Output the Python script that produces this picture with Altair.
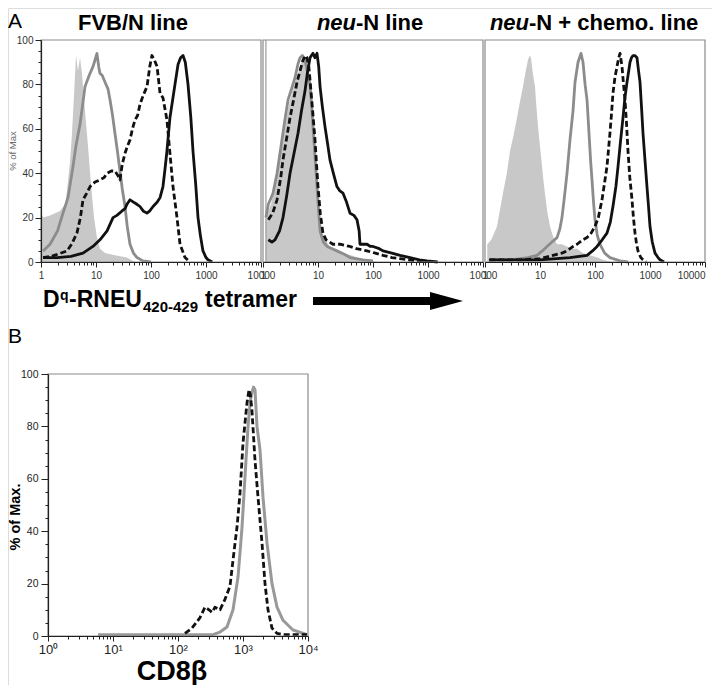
import altair as alt
import pandas as pd

FONT = "Liberation Sans"
W, H = 704, 677

# ---------------- data ----------------
# Panel A-1: FVB/N line
fvb_fill_x = [1.0, 1.02, 1.09, 1.46, 2.21, 2.73, 2.97, 3.37, 3.66, 3.98, 4.33, 4.7, 5.12, 5.56, 6.31, 7.16, 8.11, 9.2, 10.4, 11.8, 14.6, 22.0, 36.6, 51.0]
fvb_fill_y = [0, 22, 20, 21, 23, 26, 32, 45, 58, 75, 93, 86, 92, 85, 68, 52, 35, 20, 11, 6, 4, 3, 2, 0]
fvb_gray_x = [1.09, 1.46, 2.0, 2.51, 3.1, 3.82, 4.3, 5.12, 5.8, 6.31, 7.5, 8.82, 9.6, 10.4, 11.2, 11.8, 13.0, 14.6, 16.5, 18.0, 20.0, 22.1, 24.5, 27.3, 30.0, 33.7, 37.0, 41.5, 48.0, 55.6, 71.6, 100.0]
fvb_gray_y = [5, 8, 14, 22, 29, 43, 52, 62, 72, 79, 84, 88, 91, 94, 88, 85, 84, 81, 78, 73, 66, 58, 50, 41, 33, 25, 16, 8, 4, 2, 0.5, 0]
fvb_dash_x = [1.09, 1.5, 2.0, 2.97, 3.6, 4.5, 5.2, 5.8, 6.8, 7.8, 9.6, 11.8, 14.0, 15.9, 19.0, 22.1, 25.0, 27.3, 30.0, 33.7, 37.0, 41.5, 46.0, 51.2, 57.0, 63.1, 72.0, 84.6, 95.0, 104.0, 115.0, 129.0, 146.0, 165.0, 195.0, 221.0, 251.0, 297.0, 337.0, 415.0, 512.0]
fvb_dash_y = [2, 2.5, 3.5, 5, 8, 13, 20, 28, 31, 34, 36, 37, 38, 40, 41, 41, 39, 37, 44, 49, 52, 55, 60, 64, 66, 71, 75, 79, 88, 93, 91, 88, 76, 74, 64, 49, 34, 20, 8, 2, 0]
fvb_black_x = [1.09, 2.0, 3.5, 5.8, 8.8, 11.8, 15.9, 20.4, 24.0, 29.7, 33.7, 36.6, 41.5, 48.0, 55.6, 63.0, 72.0, 84.6, 95.0, 109.0, 130.0, 146.0, 165.0, 180.0, 195.0, 221.0, 273.0, 310.0, 345.0, 382.0, 420.0, 471.0, 530.0, 580.0, 650.0, 716.0, 790.0, 881.0, 1000.0, 1087.0, 1300.0]
fvb_black_y = [2, 2, 2.5, 4, 7, 10, 14, 20, 21, 23, 24, 26, 28, 27, 26, 25, 23, 22, 23, 25, 27, 29, 34, 42, 50, 65, 80, 89, 92, 93, 90, 80, 65, 50, 35, 20, 12, 5, 2, 1, 0]

# Panel A-2: neu-N line
neu_fill_x = [1.13, 1.2, 1.4, 1.65, 2.0, 2.31, 2.7, 3.1, 3.6, 4.15, 4.7, 5.34, 5.9, 6.58, 7.2, 7.78, 8.3, 8.82, 9.4, 10.0, 10.9, 11.8, 13.5, 16.5, 22.0, 28.5, 40.0, 51.2, 80.0, 118.0]
neu_fill_y = [18, 22, 26, 34, 46, 58, 66, 73, 79, 83, 88, 92, 90, 85, 80, 74, 66, 58, 46, 34, 22, 14, 10, 7, 5, 4, 3, 2, 1, 0]
neu_gray_x = [1.13, 1.25, 1.52, 1.8, 2.21, 2.5, 2.85, 3.3, 3.82, 4.3, 4.71, 5.2, 5.8, 6.4, 7.16, 7.7, 8.11, 8.8, 9.59, 10.2, 10.9, 12.5, 14.6, 22.1, 30.0, 38.2, 65.8, 100.0]
neu_gray_y = [20, 26, 31, 40, 55, 64, 73, 78, 83, 89, 92, 93, 91, 86, 80, 70, 61, 48, 34, 24, 14, 9, 7, 5, 3.5, 2, 1, 0.5]
neu_dash_x = [1.25, 1.5, 1.8, 2.1, 2.31, 2.7, 3.1, 3.6, 4.15, 4.7, 5.34, 6.0, 6.31, 6.8, 7.16, 8.0, 8.82, 9.4, 10.0, 11.0, 12.3, 14.0, 18.7, 25.0, 38.2, 50.0, 77.8, 110.0, 152.0, 220.0, 310.0, 631.0, 1000.0]
neu_dash_y = [19, 22, 28, 38, 46, 56, 65, 73, 81, 86, 91, 93, 92, 88, 82, 68, 55, 44, 34, 22, 13, 10, 8, 8, 7, 6, 5, 4, 3, 2, 1.5, 0.5, 0.2]
neu_black_x = [1.25, 1.45, 1.65, 2.0, 2.31, 2.7, 3.1, 3.6, 4.33, 5.0, 5.8, 6.4, 7.16, 7.6, 8.11, 8.8, 9.59, 10.3, 10.9, 12.0, 13.4, 15.0, 16.5, 19.0, 22.1, 25.0, 28.5, 33.0, 38.2, 45.0, 51.2, 56.0, 58.0, 65.0, 77.8, 90.0, 100.0, 130.0, 152.0, 220.0, 310.0, 471.0, 700.0, 959.0, 1500.0]
neu_black_y = [10, 9, 10, 14, 20, 30, 40, 48, 58, 68, 77, 85, 92, 93, 94, 92, 94, 88, 79, 70, 61, 53, 46, 40, 34, 32, 31, 27, 22, 21, 19, 14, 8, 8, 8, 7, 7, 6, 5, 4, 3, 2, 1, 0.5, 0]

# Panel A-3: neu-N + chemo. line
chemo_fill_x = [1.1, 1.3, 1.65, 2.12, 2.5, 2.85, 3.3, 3.82, 4.3, 4.91, 5.5, 6.05, 6.5, 6.86, 7.4, 8.11, 8.6, 9.2, 10.0, 10.9, 11.5, 12.3, 13.5, 15.2, 17.5, 20.4, 25.0, 31.0, 40.0, 47.1, 60.0, 81.1, 110.0, 140.0, 200.0]
chemo_fill_y = [8, 10, 16, 31, 40, 50, 57, 65, 72, 79, 86, 91, 93, 92, 85, 79, 70, 61, 52, 43, 37, 31, 23, 16, 11, 8, 8, 7, 6, 6, 4, 3, 2, 1, 0]
chemo_gray_x = [1.2, 3.0, 6.0, 8.82, 11.0, 13.4, 16.5, 20.4, 23.0, 25.1, 28.0, 31.0, 35.1, 39.8, 43.3, 49.1, 55.6, 60.5, 66.0, 71.6, 77.8, 83.0, 88.2, 94.0, 100.0, 110.0, 123.0, 150.0, 187.0, 285.0, 400.0]
chemo_gray_y = [1, 1, 2, 3, 5, 7, 9, 11, 15, 20, 30, 40, 55, 68, 81, 90, 94, 90, 80, 73, 58, 46, 37, 27, 19, 12, 8, 4, 2, 0.5, 0]
chemo_dash_x = [1.2, 5.0, 10.0, 17.2, 25.0, 31.0, 40.0, 47.1, 60.0, 71.6, 85.0, 100.0, 115.0, 134.0, 150.0, 165.0, 175.0, 187.0, 200.0, 212.0, 230.0, 251.0, 270.0, 285.0, 310.0, 330.0, 351.0, 375.0, 398.0, 430.0, 471.0, 500.0, 534.0, 570.0, 605.0, 680.0, 746.0, 850.0]
chemo_dash_y = [1, 1, 1.5, 3, 4, 5, 7, 8, 10, 11, 13, 16, 20, 28, 36, 43, 50, 58, 67, 76, 83, 88, 92, 94, 88, 80, 73, 62, 50, 38, 28, 20, 13, 8, 5, 2, 1, 0]
chemo_black_x = [1.2, 10.0, 35.1, 71.6, 90.0, 109.0, 135.0, 165.0, 190.0, 212.0, 240.0, 262.0, 290.0, 323.0, 350.0, 382.0, 410.0, 433.0, 460.0, 491.0, 530.0, 580.0, 620.0, 658.0, 700.0, 746.0, 810.0, 881.0, 940.0, 1000.0, 1100.0, 1233.0, 1400.0, 1520.0, 1800.0]
chemo_black_y = [1, 1, 2, 3, 5, 7, 10, 13, 18, 25, 34, 43, 54, 65, 74, 81, 86, 90, 92, 93, 93, 92, 86, 81, 70, 58, 46, 34, 25, 16, 9, 4, 2, 1, 0]

# Panel B: CD8 beta
cd8_gray_x = [5.88, 100.0, 345.0, 443.0, 567.0, 702.0, 838.0, 966.0, 1073.0, 1194.0, 1300.0, 1374.0, 1450.0, 1530.0, 1641.0, 1827.0, 2032.0, 2340.0, 2793.0, 3337.0, 4125.0, 5878.0, 9660.0]
cd8_gray_y = [0.5, 0.5, 0.5, 1.5, 3.4, 10, 22.5, 41.6, 60.7, 80, 90, 93, 95, 94, 80, 71, 53, 35.5, 20, 11, 6, 2.3, 0.5]
cd8_dash_x = [128.0, 164.0, 218.0, 260.0, 300.0, 334.0, 371.0, 443.0, 528.0, 631.0, 702.0, 809.0, 900.0, 1000.0, 1153.0, 1237.0, 1300.0, 1374.0, 1530.0, 1702.0, 1960.0, 2180.0, 2424.0, 2793.0, 3337.0, 4125.0, 9660.0]
cd8_dash_y = [1, 3, 7, 11, 10, 9, 11, 10, 14, 19, 29, 41.6, 54.6, 73.7, 89, 94, 92, 86, 67, 53, 35.5, 20, 10, 3, 1, 0.5, 0.5]

# axis tick values / labels
log_ticks = [m * 10 ** e for e in range(4) for m in range(1, 10)] + [10000]
pct_ticks = list(range(0, 101, 5))
decade_test = "indexof([1,10,100,1000,10000], datum.value) >= 0"

# ---------------- helpers ----------------
def df(xs, ys):
    return pd.DataFrame({"x": xs, "y": ys})


def xscale(r):
    return alt.Scale(type="log", domain=[1, 10000], range=r, nice=False)


def yscale(r):
    return alt.Scale(domain=[0, 100], range=r, nice=False, zero=True)


def x_axis(offset, labels, lsize, lcolor, pad, last_right=False):
    kw = {}
    if last_right:
        kw["labelAlign"] = {"condition": {"test": "datum.value === 10000", "value": "right"}, "value": "center"}
    return alt.Axis(
        orient="bottom", offset=offset, values=log_ticks, format="d",
        labelExpr=labels, labelFontSize=lsize, labelColor=lcolor, labelFont=FONT,
        labelPadding=pad, labelFlush=False, labelOverlap=False,
        tickSize={"condition": {"test": decade_test, "value": 5}, "value": 3},
        tickColor="#222", domainColor="#222", domainWidth=1.2, tickWidth=1,
        grid=False, title=None, zindex=2, **kw,
    )


def y_axis(offset, lsize, lcolor, major, pad):
    return alt.Axis(
        orient="left", offset=offset, values=pct_ticks,
        labelExpr="datum.value % 20 === 0 ? datum.label : ''",
        labelFontSize=lsize, labelColor=lcolor, labelFont=FONT, labelPadding=pad,
        labelFlush=False, labelOverlap=False,
        tickSize={"condition": {"test": "datum.value % 20 === 0", "value": major}, "value": 3},
        tickColor="#222", domainColor="#222", domainWidth=1.2, tickWidth=1,
        grid=False, title=None, zindex=2,
    )


def enc(xr, yr, xaxis=None, yaxis=None, **extra):
    return dict(
        x=alt.X("x:Q", scale=xscale(xr), axis=xaxis),
        y=alt.Y("y:Q", scale=yscale(yr), axis=yaxis),
        **extra,
    )


def line(xs, ys, xr, yr, color, width, dash=None):
    kw = dict(color=color, strokeWidth=width, strokeJoin="round")
    if dash:
        kw["strokeDash"] = dash
    return alt.Chart(df(xs, ys)).mark_line(**kw).encode(**enc(xr, yr))


def area(xs, ys, xr, yr):
    return alt.Chart(df(xs, ys)).mark_area(color="#c8c8c8").encode(**enc(xr, yr))


def box(xr, yr, xaxis, yaxis):
    frame = pd.DataFrame({"x": [1], "x2": [10000], "y": [0], "y2": [100]})
    return alt.Chart(frame).mark_rect(fillOpacity=0, stroke="#8a8a8a", strokeWidth=1.2).encode(
        **enc(xr, yr, xaxis, yaxis, x2="x2:Q", y2="y2:Q")
    )


GRAY = "#8c8c8c"
BLACK = "#111111"
DASH = [6, 3]
LW = 2.8

A_Y = [254, 32]
X1, X2, X3 = [33, 253], [255, 475], [477, 697]
XB, YB = [40, 300], [628, 366]
A_LABELS = f"{decade_test} ? datum.label : ''"
A_OFF = 254 - H

layers = [
    # panel A-1
    area(fvb_fill_x, fvb_fill_y, X1, A_Y),
    line(fvb_gray_x, fvb_gray_y, X1, A_Y, GRAY, LW),
    line(fvb_dash_x, fvb_dash_y, X1, A_Y, BLACK, LW, DASH),
    line(fvb_black_x, fvb_black_y, X1, A_Y, BLACK, LW),
    box(X1, A_Y, x_axis(A_OFF, A_LABELS, 10, "#333", 3), y_axis(-33, 10, "#333", 6, 2)),
    # panel A-2
    area(neu_fill_x, neu_fill_y, X2, A_Y),
    alt.Chart(pd.DataFrame({"x": [1.13], "y": [0], "y2": [100]})).mark_rule(
        color="#9a9a9a", strokeWidth=1.2).encode(**enc(X2, A_Y, y2="y2:Q")),
    line(neu_gray_x, neu_gray_y, X2, A_Y, GRAY, LW),
    line(neu_dash_x, neu_dash_y, X2, A_Y, BLACK, LW, DASH),
    line(neu_black_x, neu_black_y, X2, A_Y, BLACK, LW),
    box(X2, A_Y, x_axis(A_OFF, A_LABELS, 10, "#333", 3), None),
    # panel A-3
    area(chemo_fill_x, chemo_fill_y, X3, A_Y),
    line(chemo_gray_x, chemo_gray_y, X3, A_Y, GRAY, LW),
    line(chemo_dash_x, chemo_dash_y, X3, A_Y, BLACK, LW, DASH),
    line(chemo_black_x, chemo_black_y, X3, A_Y, BLACK, LW),
    box(X3, A_Y, x_axis(A_OFF, A_LABELS, 10, "#333", 3, last_right=True), None),
]

B_LABELS = ("datum.value == 1 ? '10⁰' : datum.value == 10 ? '10¹' : datum.value == 100 ? '10²' : "
            "datum.value == 1000 ? '10³' : datum.value == 10000 ? '10⁴' : ''")
layers += [
    line(cd8_gray_x, cd8_gray_y, XB, YB, "#999999", 3),
    line(cd8_dash_x, cd8_dash_y, XB, YB, BLACK, LW, DASH),
    box(XB, YB, x_axis(628 - H, B_LABELS, 13, "#222", 2), y_axis(-40, 10.5, "#222", 7, 3)),
]

# ---------------- annotations ----------------
one = pd.DataFrame({"k": [0]})


def txt(t, x, y, size, weight="normal", style="normal", align="left", angle=0, color="black", baseline="alphabetic"):
    kw = dict(text=t, fontSize=size, fontWeight=weight, fontStyle=style, align=align,
              baseline=baseline, color=color, font=FONT)
    if angle:
        kw["angle"] = angle
    return alt.Chart(one).mark_text(**kw).encode(x=alt.value(x), y=alt.value(y))


layers += [
    txt("A", 0, 20, 21),
    txt("B", 0, 335, 21),
    txt("FVB/N line", 125, 22, 22, "bold", align="center"),
    txt("neu", 348, 22, 22, "bold", "italic", align="right"),
    txt("-N line", 348, 22, 22, "bold"),
    txt("neu", 521, 22, 22, "bold", "italic", align="right"),
    txt("-N + chemo. line", 521, 22, 22, "bold"),
    txt("% of Max", 5, 143, 9.5, align="center", angle=270, color="#666", baseline="middle"),
    txt("% of Max.", 8, 509, 14.5, "bold", align="center", angle=270, baseline="middle"),
    txt("D", 35, 299, 23, "bold"),
    txt("q", 52, 292, 14, "bold"),
    txt("-RNEU", 61, 299, 23, "bold"),
    txt("420-429", 135, 304, 15, "bold"),
    txt("tetramer", 197, 299, 23, "bold"),
    txt("CD8β", 164, 672, 27, "bold", align="center"),
    alt.Chart(one).mark_rule(color="black", strokeWidth=8).encode(
        x=alt.value(305), x2=alt.value(424), y=alt.value(293)),
    alt.Chart(one).mark_point(
        shape="M-1,-0.55L1,0L-1,0.55Z", size=1089, filled=True, color="black", opacity=1
    ).encode(x=alt.value(438.5), y=alt.value(293)),
]

chart = alt.layer(*layers).resolve_scale(
    x="independent", y="independent"
).resolve_axis(x="independent", y="independent").properties(
    width=W, height=H, padding=0, autosize=alt.AutoSizeParams(type="none"),
    background="white",
).configure_view(stroke=None).configure(font=FONT)

chart.save("out.html", embed_options={"renderer": "svg", "actions": False})
